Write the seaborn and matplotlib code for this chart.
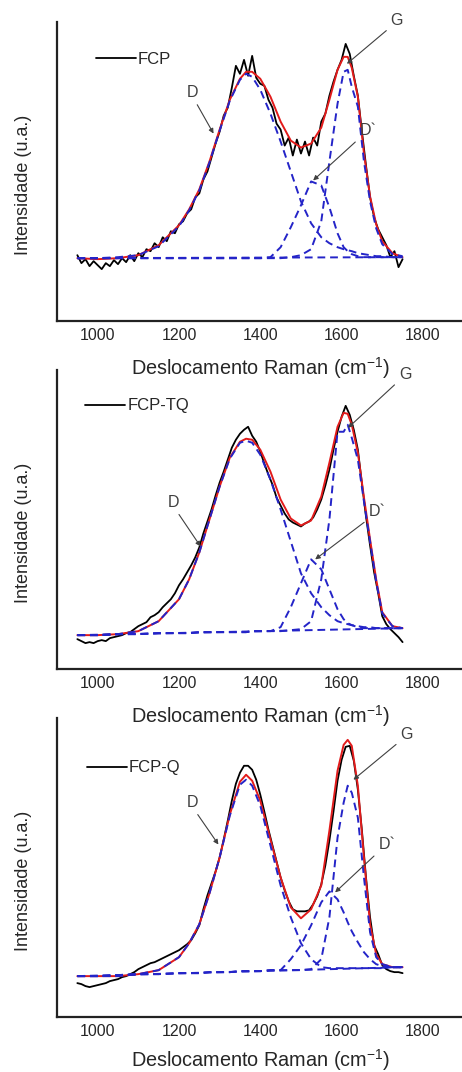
import numpy as np
import matplotlib
matplotlib.use("Agg")
import matplotlib.pyplot as plt
import seaborn as sns

# ==============================================================
# Data (intensity in arbitrary units)
# ==============================================================
SAMPLES = ["FCP", "FCP-TQ", "FCP-Q"]

# measured spectra, 10 cm-1 step
RAW_X = list(range(950, 1751, 10))
raw_fcp = [66, 58, 62, 55, 60, 56, 52, 58, 55, 61, 57, 63, 59, 66, 60, 68, 64, 72, 70, 78,
           74, 84, 80, 90, 88, 97, 100, 108, 112, 124, 128, 142, 150, 164, 178, 190, 206, 214, 234, 256,
           248, 262, 246, 266, 244, 238, 236, 222, 214, 198, 192, 176, 184, 166, 182, 168, 180, 166, 184, 176,
           200, 208, 226, 240, 252, 262, 278, 268, 246, 226, 190, 156, 124, 104, 92, 84, 76, 64, 70, 54, 62]
raw_fcp_tq = [30, 28, 26, 27, 26, 28, 29, 28, 31, 32, 33, 34, 36, 37, 40, 43, 45, 47, 52, 54,
              57, 62, 66, 70, 76, 84, 90, 97, 104, 112, 122, 136, 148, 160, 174, 187, 198, 210, 222, 230,
              236, 240, 243, 234, 228, 218, 206, 195, 185, 172, 164, 156, 150, 147, 145, 143, 146, 148, 152, 160,
              170, 184, 200, 220, 238, 253, 264, 255, 240, 220, 186, 153, 124, 97, 76, 53, 45, 40, 36, 32, 27]
raw_fcp_q = [34, 33, 31, 30, 31, 32, 33, 34, 36, 37, 38, 40, 41, 43, 45, 48, 50, 52, 54, 55,
             57, 59, 61, 63, 65, 67, 70, 73, 77, 84, 92, 108, 122, 134, 146, 160, 178, 197, 217, 234,
             245, 252, 252, 248, 238, 223, 206, 188, 172, 156, 140, 127, 116, 108, 106, 106, 106, 107, 113, 121,
             133, 152, 177, 206, 237, 258, 271, 272, 257, 228, 187, 140, 100, 72, 63, 52, 48, 46, 45, 45, 44]

# fitted curves
FIT_X = [950, 1000, 1050, 1100, 1150, 1200, 1225, 1250, 1275, 1300, 1325, 1350, 1365, 1380, 1400, 1425,
         1450, 1475, 1500, 1525, 1550, 1570, 1590, 1605, 1615, 1625, 1640, 1655, 1670, 1685, 1700, 1725, 1750]

fit_fcp = [63, 62, 63, 66, 76, 96, 112, 132, 160, 192, 222, 243, 250, 250, 243, 225,
           200, 181, 174, 178, 194, 222, 252, 265, 265, 254, 225, 168, 125, 97, 80, 68, 64]
d_fcp = [63, 63, 64, 66, 75, 95, 111, 131, 159, 191, 221, 242, 248, 245, 232, 208,
         180, 150, 120, 98, 84, 78, 74, 72, 71, 70, 68, 67, 66, 65, 65, 64, 64]
d2_fcp = [63, 63, 63, 63, 63, 63, 63, 63, 63, 63, 63, 63, 63, 63, 63, 64,
          74, 94, 116, 140, 136, 114, 88, 74, 70, 67, 65, 64, 64, 64, 64, 64, 64]
g_fcp = [63, 63, 63, 63, 63, 63, 63, 63, 63, 63, 63, 63, 63, 63, 63, 63,
         63, 64, 66, 72, 100, 160, 218, 250, 252, 235, 215, 160, 120, 93, 77, 67, 65]

fit_fcp_tq = [34, 34, 35, 38, 48, 70, 90, 117, 150, 183, 212, 228, 231, 230, 220, 198,
              170, 151, 144, 149, 173, 207, 243, 257, 256, 245, 217, 172, 130, 90, 57, 43, 41]
d_fcp_tq = [34, 34, 35, 38, 48, 70, 90, 117, 150, 183, 211, 227, 229, 227, 215, 190,
            160, 128, 96, 76, 62, 54, 48, 46, 45, 44, 43, 42, 42, 41, 41, 41, 41]
d2_fcp_tq = [34, 34, 35, 35, 36, 36, 36, 37, 37, 37, 37, 37, 37, 38, 38, 38,
             42, 62, 86, 110, 100, 80, 60, 50, 46, 44, 42, 41, 41, 41, 41, 41, 41]
g_fcp_tq = [34, 34, 35, 35, 36, 36, 36, 37, 37, 37, 37, 37, 37, 38, 38, 38,
            38, 39, 40, 48, 90, 150, 238, 238, 245, 232, 210, 168, 128, 88, 56, 43, 41]

fit_fcp_q = [41, 41, 41, 43, 47, 60, 74, 93, 124, 160, 203, 236, 243, 237, 217, 178,
             140, 110, 99, 108, 132, 187, 247, 273, 278, 272, 232, 160, 93, 63, 53, 50, 50]
d_fcp_q = [41, 41, 41, 43, 47, 60, 74, 93, 124, 160, 202, 233, 238, 232, 212, 172,
           132, 100, 74, 58, 50, 49, 49, 49, 49, 49, 49, 49, 49, 49, 49, 50, 50]
d2_fcp_q = [41, 41, 42, 43, 43, 44, 44, 44, 45, 45, 45, 46, 46, 46, 46, 47,
            47, 58, 72, 92, 115, 126, 118, 105, 95, 86, 75, 65, 58, 53, 51, 50, 50]
g_fcp_q = [41, 41, 42, 43, 43, 44, 44, 44, 45, 45, 45, 46, 46, 46, 46, 47,
           47, 47, 47, 48, 58, 100, 180, 215, 232, 225, 200, 140, 85, 60, 53, 50, 50]

# linear baselines (end points)
BASE_X = [950, 1750]
base_fcp = [63, 64]
base_fcp_tq = [34, 41]
base_fcp_q = [41, 50]

# annotation: (label, text centre x, text centre y, arrow tip x, arrow tip y)
notes_fcp = [("D", 1233, 229, 1285, 188), ("G", 1736, 301, 1613, 258), ("D`", 1665, 191, 1530, 141)]
notes_fcp_tq = [("D", 1187, 167, 1253, 123), ("G", 1756, 295, 1616, 242), ("D`", 1687, 158, 1535, 110)]
notes_fcp_q = [("D", 1233, 215, 1297, 173), ("G", 1760, 283, 1629, 238), ("D`", 1711, 173, 1584, 125)]
ARROW_START = {"D": (0.7, 0.0), "G": (0.0, 0.1), "D`": (0.0, 0.0)}

LEGEND_POS = [(0.095, 0.876), (0.07, 0.88), (0.073, 0.833)]
XLABEL_PAD = [9, 9, 6]

panels = [
    (raw_fcp, fit_fcp, [d_fcp, d2_fcp, g_fcp], base_fcp, notes_fcp),
    (raw_fcp_tq, fit_fcp_tq, [d_fcp_tq, d2_fcp_tq, g_fcp_tq], base_fcp_tq, notes_fcp_tq),
    (raw_fcp_q, fit_fcp_q, [d_fcp_q, d2_fcp_q, g_fcp_q], base_fcp_q, notes_fcp_q),
]

# ==============================================================
# Style
# ==============================================================
sns.set_style("white")
plt.rcParams["font.family"] = ["Liberation Sans", "DejaVu Sans"]
plt.rcParams["mathtext.default"] = "regular"

BLUE = "#2424c8"
RED = "#e21b1b"
GRAY = "#404040"
DASH = (0, (4, 2.5))

fig = plt.figure(figsize=(4.62, 10.72), dpi=100)
axes_rects = [(0.1234, 0.7006, 0.880, 0.2789),
              (0.1234, 0.3759, 0.880, 0.2790),
              (0.1234, 0.0513, 0.880, 0.2790)]

for i, (raw, fit, comps, base, notes) in enumerate(panels):
    ax = fig.add_axes(axes_rects[i])
    ax.set_facecolor("none")
    sns.lineplot(x=RAW_X, y=raw, ax=ax, color="black", lw=1.3, label=SAMPLES[i])
    sns.lineplot(x=FIT_X, y=fit, ax=ax, color=RED, lw=1.4)
    for comp in comps:
        sns.lineplot(x=FIT_X, y=comp, ax=ax, color=BLUE, lw=1.4, linestyle=DASH)
    sns.lineplot(x=BASE_X, y=base, ax=ax, color=BLUE, lw=1.4, linestyle=DASH)

    for lab, tx, ty, px, py in notes:
        ax.annotate(lab, xy=(px, py), xytext=(tx, ty), fontsize=11.5, color=GRAY,
                    ha="center", va="center", annotation_clip=False,
                    arrowprops=dict(arrowstyle="-|>", color=GRAY, lw=0.8,
                                    mutation_scale=7, shrinkA=1, shrinkB=0,
                                    relpos=ARROW_START[lab]))

    ax.set_xlim(900, 1900)
    ax.set_ylim(0, 300)
    ax.set_xticks([1000, 1200, 1400, 1600, 1800])
    ax.set_yticks([])
    ax.tick_params(axis="x", direction="in", length=5, width=1.2, labelsize=11.5, pad=5)
    for side in ["top", "right"]:
        ax.spines[side].set_visible(False)
    for side in ["left", "bottom"]:
        ax.spines[side].set_linewidth(1.6)
        ax.spines[side].set_color("#222222")

    ax.set_xlabel("Deslocamento Raman (cm$^{-1}$)", fontsize=14.3, labelpad=XLABEL_PAD[i])
    ax.set_ylabel("Intensidade (u.a.)", fontsize=13)
    ax.yaxis.set_label_coords(-0.062, 0.455)

    ax.legend(loc="center left", bbox_to_anchor=LEGEND_POS[i], frameon=False,
              fontsize=12, handlelength=2.4, handletextpad=0.1,
              borderpad=0, borderaxespad=0)

fig.savefig("out.png", dpi=100)
